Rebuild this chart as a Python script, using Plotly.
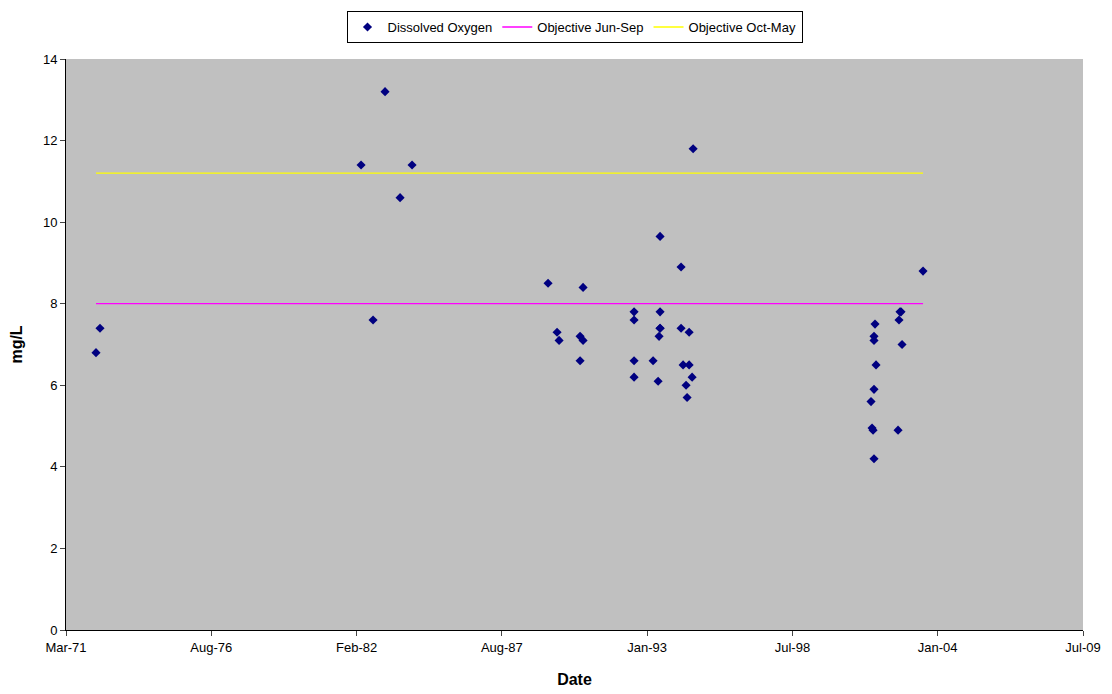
import plotly.graph_objects as go
from datetime import date, timedelta

do_dates = ["1972-04-21","1972-06-15","1982-04-18","1982-09-30","1983-03-14","1983-10-07","1984-03-20",
            "1989-05-05","1989-09-06","1989-10-04","1990-07-20","1990-07-20","1990-08-30","1990-08-30",
            "1992-08-01","1992-08-01","1992-08-01","1992-08-01","1993-04-20","1993-06-28",
            "1993-07-25","1993-07-25","1993-07-25","1993-07-25","1993-07-11",
            "1994-05-10","1994-05-10","1994-06-07","1994-07-18","1994-08-01","1994-08-29","1994-08-29",
            "1994-10-09","1994-10-23",
            "2001-07-07","2001-07-21","2001-08-04","2001-08-17","2001-08-17","2001-08-17","2001-08-17",
            "2001-08-31","2001-09-14",
            "2002-07-14","2002-07-27","2002-08-10","2002-08-24","2002-09-07","2003-06-23"]
do_vals = [6.8,7.4,11.4,7.6,13.2,10.6,11.4,
           8.5,7.3,7.1,6.6,7.2,7.1,8.4,
           7.8,7.6,6.6,6.2,6.6,6.1,
           9.65,7.8,7.4,7.4,7.2,
           8.9,7.4,6.5,6.0,5.7,7.3,6.5,
           6.2,11.8,
           5.6,4.95,4.9,5.9,7.2,7.1,4.2,
           7.5,6.5,
           4.9,7.6,7.8,7.8,7.0,8.8]
obj_dates = ["1972-04-21","2003-06-23"]
obj_jun_sep = [8, 8]
obj_oct_may = [11.2, 11.2]

start = date(1971, 3, 5)
tickvals = [start + timedelta(days=2000*i) for i in range(8)]
ticktext = ["Mar-71","Aug-76","Feb-82","Aug-87","Jan-93","Jul-98","Jan-04","Jul-09"]

fig = go.Figure()
fig.add_trace(go.Scatter(x=do_dates, y=do_vals, mode="markers", name="Dissolved Oxygen",
                         marker=dict(symbol="diamond", color="#000080", size=7)))
fig.add_trace(go.Scatter(x=obj_dates, y=obj_jun_sep, mode="lines", name="Objective Jun-Sep",
                         line=dict(color="#FF00FF", width=1.3)))
fig.add_trace(go.Scatter(x=obj_dates, y=obj_oct_may, mode="lines", name="Objective Oct-May",
                         line=dict(color="#FFFF00", width=1.3)))

fig.update_layout(
    width=1112, height=694, paper_bgcolor="white", plot_bgcolor="#C0C0C0",
    margin=dict(l=58, r=37, t=51, b=72, autoexpand=False),
    font=dict(family="Liberation Sans, Arial", size=13, color="black"),
    showlegend=True,
    legend=dict(orientation="h", x=0.5, xanchor="center", y=1.084, yanchor="top",
                bordercolor="black", borderwidth=1, font=dict(size=13),
                itemwidth=30, tracegroupgap=0),
    xaxis=dict(range=[tickvals[0], tickvals[-1]], tickvals=tickvals, ticktext=ticktext,
               showgrid=False, showline=True, linecolor="black", ticks="outside", ticklen=5,
               title=dict(text="<b>Date</b>", standoff=20), zeroline=False),
    yaxis=dict(range=[0, 14], dtick=2, showgrid=False, showline=True, linecolor="black",
               ticks="outside", ticklen=5, title=dict(text="<b>mg/L</b>", standoff=18),
               zeroline=False),
)
fig.write_html("out.html")
